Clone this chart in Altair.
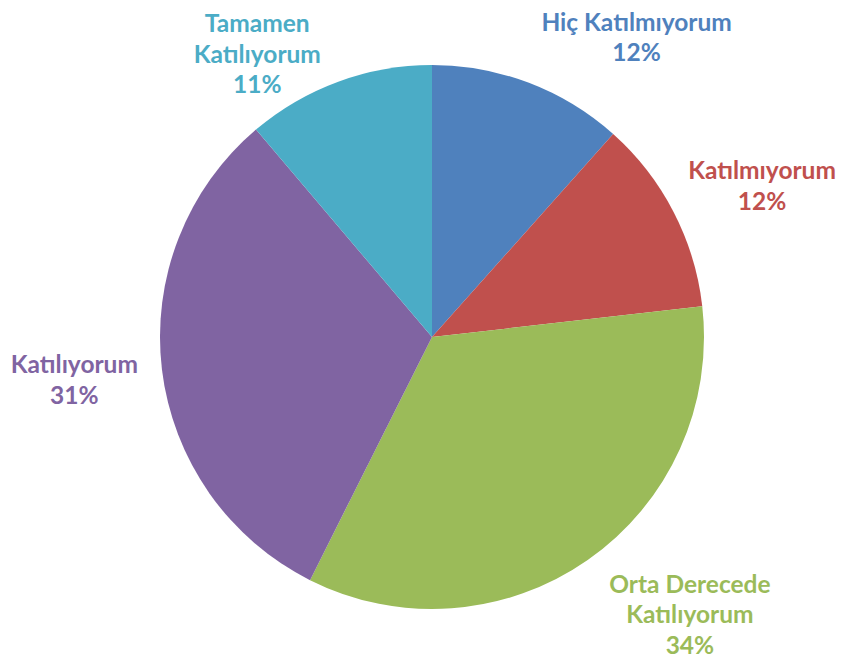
import altair as alt
import pandas as pd

categories = ["Hiç Katılmıyorum", "Katılmıyorum", "Orta Derecede Katılıyorum", "Katılıyorum", "Tamamen Katılıyorum"]
values = [11.6, 11.6, 34.2, 31.4, 11.2]
labels = ["Hiç Katılmıyorum\n12%", "Katılmıyorum\n12%", "Orta Derecede\nKatılıyorum\n34%", "Katılıyorum\n31%", "Tamamen\nKatılıyorum\n11%"]
colors = ["#4F81BD", "#C0504D", "#9BBB59", "#8064A2", "#4BACC6"]

df = pd.DataFrame({"cat": categories, "value": values, "label": labels, "idx": list(range(len(categories)))})
total = sum(values)

CX, CY = 424, 329
# label nudges (layout only)
nudges = {
    "Hiç Katılmıyorum": (87, -5),
    "Katılmıyorum": (37, -13),
    "Orta Derecede Katılıyorum": (69, -22),
    "Katılıyorum": (-30, -10),
    "Tamamen Katılıyorum": (-61, -2),
}

color_scale = alt.Scale(domain=categories, range=colors)

pie = alt.Chart(df).mark_arc(radius=272).encode(
    theta=alt.Theta("value:Q", stack=True),
    order=alt.Order("idx:Q"),
    color=alt.Color("cat:N", scale=color_scale, legend=None),
    x=alt.value(CX),
    y=alt.value(CY),
)

text_base = alt.Chart(df).transform_window(
    cum="sum(value)", sort=[alt.SortField("idx")], frame=[None, 0]
).transform_calculate(
    mid="datum.cum - datum.value / 2"
)

layers = [pie]
for c in categories:
    dx, dy = nudges[c]
    t = text_base.transform_filter(alt.datum.cat == c).mark_text(
        radius=330, dx=dx, dy=dy, font="Lato", fontSize=24.5, fontWeight="bold",
        lineBreak="\n", lineHeight=30.5, align="center", baseline="middle",
    ).encode(
        theta=alt.Theta("mid:Q", stack=False, scale=alt.Scale(domain=[0, total])),
        color=alt.Color("cat:N", scale=color_scale, legend=None),
        text="label:N",
        x=alt.value(CX),
        y=alt.value(CY),
    )
    layers.append(t)

chart = alt.layer(*layers).resolve_scale(theta="independent").properties(
    width=830, height=652, padding=0, autosize=alt.AutoSizeParams(type="none")
).configure_view(stroke=None)

chart.save("out.html", embed_options={"renderer": "svg", "actions": False})
